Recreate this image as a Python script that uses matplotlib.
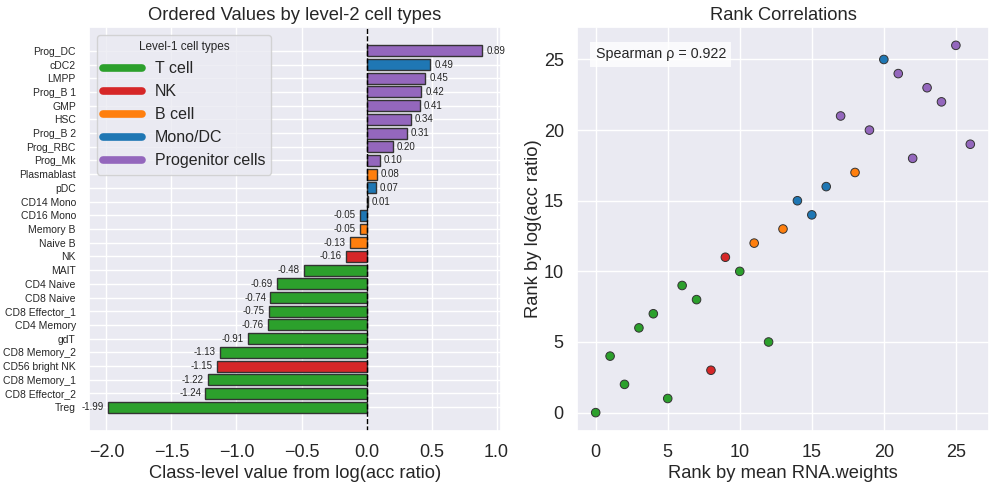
import matplotlib
matplotlib.use("Agg")
import matplotlib.pyplot as plt
from matplotlib.lines import Line2D
import seaborn as sns

# level-2 cell types, ordered from lowest to highest value
cell_types = ["Treg", "CD8 Effector_2", "CD8 Memory_1", "CD56 bright NK", "CD8 Memory_2",
              "gdT", "CD4 Memory", "CD8 Effector_1", "CD8 Naive", "CD4 Naive", "MAIT",
              "NK", "Naive B", "Memory B", "CD16 Mono", "CD14 Mono", "pDC", "Plasmablast",
              "Prog_Mk", "Prog_RBC", "Prog_B 2", "HSC", "GMP", "Prog_B 1", "LMPP",
              "cDC2", "Prog_DC"]
values = [-1.99, -1.24, -1.22, -1.15, -1.13, -0.91, -0.76, -0.75, -0.74, -0.69, -0.48,
          -0.16, -0.13, -0.05, -0.05, 0.01, 0.07, 0.08, 0.10, 0.20, 0.31, 0.34, 0.41,
          0.42, 0.45, 0.49, 0.89]
level1 = ["T cell", "T cell", "T cell", "NK", "T cell", "T cell", "T cell", "T cell",
          "T cell", "T cell", "T cell", "NK", "B cell", "B cell", "Mono/DC", "Mono/DC",
          "Mono/DC", "B cell", "Progenitor cells", "Progenitor cells", "Progenitor cells",
          "Progenitor cells", "Progenitor cells", "Progenitor cells", "Progenitor cells",
          "Mono/DC", "Progenitor cells"]

# rank by mean RNA.weights for each cell type (same order as above)
rna_rank = [0, 5, 2, 8, 1, 12, 3, 4, 7, 6, 10, 9, 11, 13, 15, 14, 16, 18, 22, 26, 19,
            17, 24, 23, 21, 20, 25]
acc_rank = list(range(len(values)))

groups = ["T cell", "NK", "B cell", "Mono/DC", "Progenitor cells"]
palette = {"T cell": "#2ca02c", "NK": "#d62728", "B cell": "#ff7f0e",
           "Mono/DC": "#1f77b4", "Progenitor cells": "#9467bd"}

sns.set_theme(style="darkgrid")
plt.rcParams["font.family"] = ["Liberation Sans", "DejaVu Sans"]

fig = plt.figure(figsize=(9.97, 4.87), dpi=100)
ax1 = fig.add_axes([0.0893, 0.115, 0.4132, 0.8296])
ax2 = fig.add_axes([0.5787, 0.115, 0.4133, 0.8296])

colors = [palette[g] for g in level1]
bars = ax1.barh(range(len(values)), values, color=colors, edgecolor="#333333",
                linewidth=1, height=0.8)
ax1.bar_label(bars, labels=["{:.2f}".format(v) for v in values], padding=3, fontsize=7)
ax1.axvline(0, color="black", linestyle="--", linewidth=1)
ax1.set_yticks(range(len(values)))
ax1.set_yticklabels(cell_types, fontsize=7.5)
ax1.tick_params(axis="x", labelsize=13)
ax1.set_xlabel("Class-level value from log(acc ratio)", fontsize=13.2, labelpad=3)
ax1.set_title("Ordered Values by level-2 cell types", fontsize=13.2, pad=5)

handles = [Line2D([0], [0], color=palette[g], lw=5.5) for g in groups]
leg = ax1.legend(handles, groups, title="Level-1 cell types", loc="upper left",
                 fontsize=11.5, title_fontsize=8.5, handlelength=2.4)

ax2.scatter(rna_rank, acc_rank, c=colors, s=38, edgecolor="#333333", linewidth=0.7,
            zorder=3)
ax2.set_xlabel("Rank by mean RNA.weights", fontsize=13.2, labelpad=3)
ax2.set_ylabel("Rank by log(acc ratio)", fontsize=13.2, labelpad=1)
ax2.set_title("Rank Correlations", fontsize=13.2, pad=5)
ax2.tick_params(axis="both", labelsize=13)
ax2.text(0.045, 0.95, "Spearman \u03c1 = 0.922", transform=ax2.transAxes, fontsize=10.3,
         va="top", ha="left", bbox=dict(facecolor="white", edgecolor="none", alpha=0.8))

fig.savefig("out.png", dpi=100)
